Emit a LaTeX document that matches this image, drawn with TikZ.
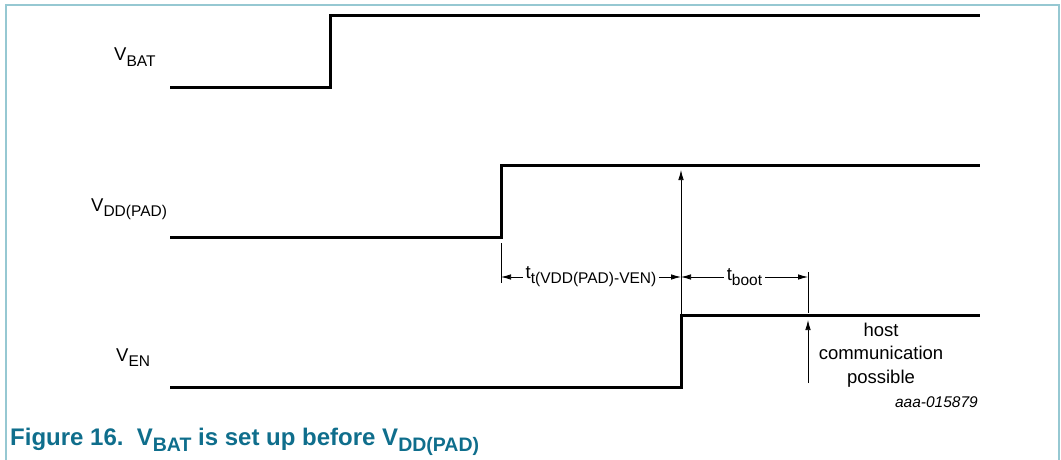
\documentclass[tikz,border=0pt]{standalone}
\usepackage{fontspec}
\setmainfont{Liberation Sans}
\usetikzlibrary{arrows.meta, positioning, calc}
\definecolor{framecyan}{RGB}{150, 200, 210}
\definecolor{captionteal}{RGB}{15, 110, 140}
\newcommand{\sig}[2]{#1\raisebox{-0.28em}{\fontsize{15.5}{15.5}\selectfont #2}}
\newcommand{\capsig}[2]{#1\raisebox{-0.25em}{\fontsize{19.5}{19.5}\selectfont #2}}

\begin{document}
\begin{tikzpicture}[x=1pt, y=-1pt,
  wave/.style={line width=3pt, line join=miter},
  dim/.style={line width=0.75pt},
  tip/.style={-{Latex[length=10pt, width=5.5pt]}},
  dimarrow/.style={dim, {Latex[length=10pt, width=5.5pt]}-{Latex[length=10pt, width=5.5pt]}},
  lbl/.style={font=\fontsize{18.5}{23.5}\selectfont, inner sep=0pt}]
  \useasboundingbox (0, 0) rectangle (1061, 460);
  \draw[framecyan, line width=1.5pt] (6, 470) -- (6, 5) -- (1059, 5) -- (1059, 470);

  % waveforms
  \coordinate (bat0) at (170, 88);  \coordinate (bat1) at (330, 88);
  \coordinate (bat2) at (330, 16);  \coordinate (bat3) at (980, 16);
  \coordinate (pad0) at (170, 237); \coordinate (pad1) at (501, 237);
  \coordinate (pad2) at (501, 165); \coordinate (pad3) at (980, 165);
  \coordinate (en0) at (170, 387);  \coordinate (en1) at (681, 387);
  \coordinate (en2) at (681, 315);  \coordinate (en3) at (980, 315);
  \draw[wave] (bat0) -- (bat1) -- (bat2) -- (bat3);
  \draw[wave] (pad0) -- (pad1) -- (pad2) -- (pad3);
  \draw[wave] (en0) -- (en1) -- (en2) -- (en3);

  \node[lbl, anchor=base west] (vbat) at (114, 61) {\sig{V}{BAT}};
  \node[lbl, anchor=base west] (vpad) at (91, 211) {\sig{V}{DD(PAD)}};
  \node[lbl, anchor=base west] (ven) at (116, 361) {\sig{V}{EN}};

  % timing
  \coordinate (ext1) at (501, 243);  \coordinate (ext2) at (501, 283);
  \coordinate (dimL) at (501, 277);  \coordinate (dimM) at (681, 277);
  \coordinate (dimR) at (808, 277);
  \coordinate (padup) at (681, 170);
  \coordinate (boot1) at (808, 272); \coordinate (boot2) at (808, 313);
  \coordinate (host1) at (808, 383); \coordinate (host2) at (808, 320);
  \draw[dim] (ext1) -- (ext2);
  \draw[dim, tip] (en2) -- (padup);
  \draw[dim] (boot1) -- (boot2);
  \draw[dim, tip] (host1) -- (host2);
  \draw[dimarrow] (dimL) -- (dimM)
    node[lbl, midway, fill=white, inner xsep=3pt, inner ysep=1pt] (ttlbl) {\sig{t}{t(VDD(PAD)-VEN)}};
  \draw[dimarrow] (dimM) -- (dimR)
    node[lbl, midway, fill=white, inner xsep=3pt, inner ysep=1pt] (tboot) {\sig{t}{boot}};

  \node[lbl, align=center] (host) at (881, 355) {host\\communication\\possible};
  \node[anchor=base east, inner sep=0pt, font=\fontsize{15.5}{18}\selectfont\itshape] (code) at (978, 407) {aaa-015879};

  \node[anchor=base west, inner sep=0pt, text=captionteal,
    font=\fontsize{24}{28}\selectfont\bfseries] (caption) at (10, 445)
    {Figure 16.\ \ \capsig{V}{BAT} is set up before \capsig{V}{DD(PAD)}};
\end{tikzpicture}
\end{document}
